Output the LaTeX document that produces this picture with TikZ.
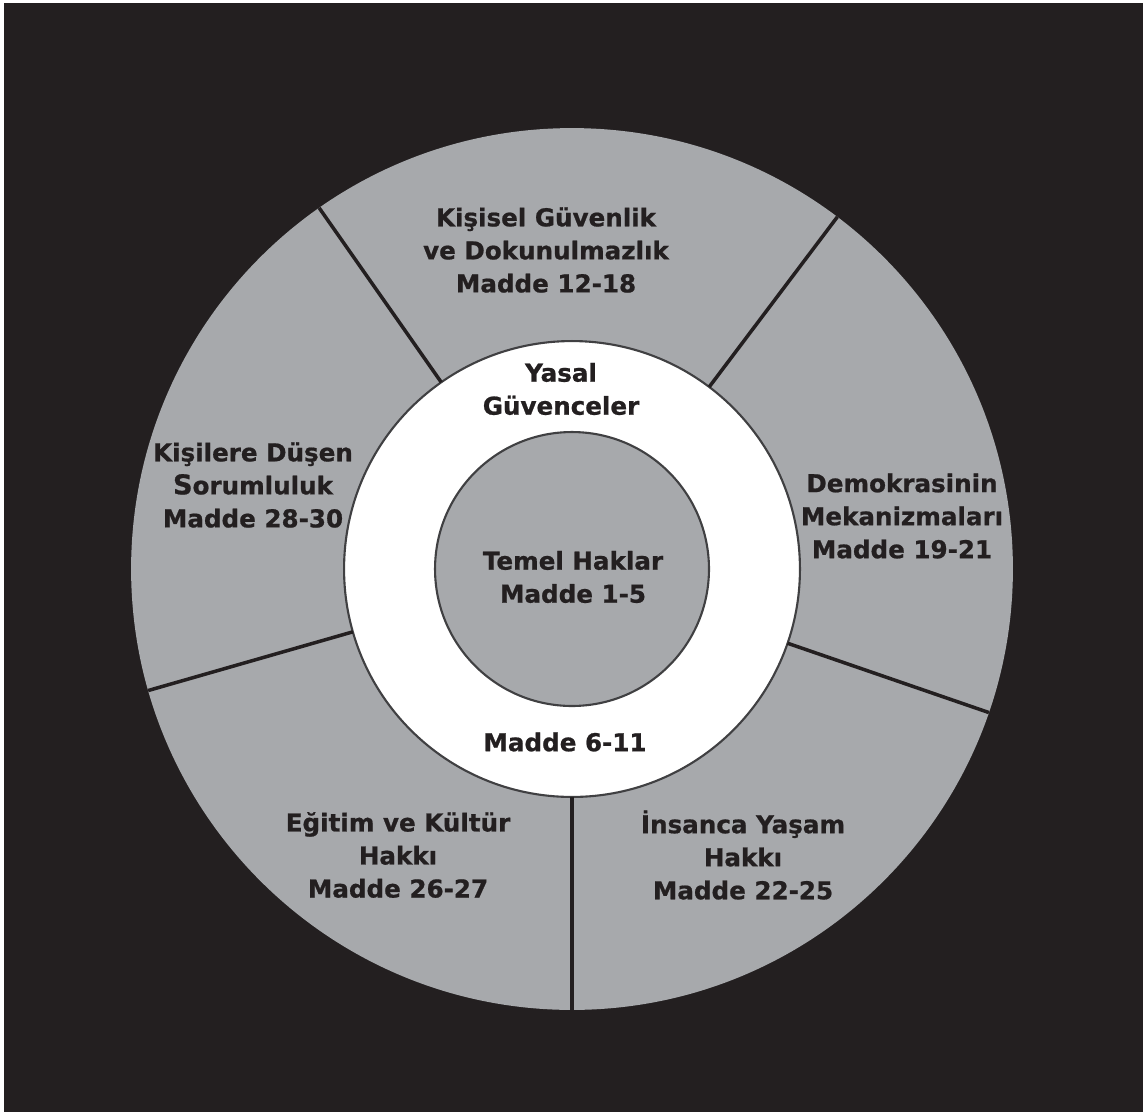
\documentclass[tikz,border=0pt]{standalone}
\usepackage{fontspec}
\setmainfont{DejaVu Sans}[BoldFeatures={FakeBold=0.8}]
\usepackage{tikz}
\definecolor{bg}{HTML}{231F20}
\definecolor{sector}{HTML}{A7A9AC}
\definecolor{rim}{HTML}{404042}

\begin{document}
\begin{tikzpicture}[x=0.02cm, y=-0.02cm,
    disc/.style={circle, inner sep=0pt, outer sep=0pt},
    divider/.style={draw=bg, line width=2pt},
    label/.style={align=center, text=bg, font=\fontsize{14pt}{18.8pt}\selectfont\bfseries}]
  \useasboundingbox (0,0) rectangle (1148,1116);
  \fill[white] (0,0) rectangle (1148,1116);
  \fill[bg] (4,3) rectangle (1143,1112);
  % rings
  \node[disc, fill=sector, minimum size=17.64cm] (outer) at (572,569) {};
  \node[disc, fill=white, draw=rim, line width=1.2pt, minimum size=9.12cm] (ring) at (572,569) {};
  \node[disc, fill=sector, draw=rim, line width=1.2pt, minimum size=5.48cm] (core) at (572,569) {};
  % dividers
  \foreach \a in {125,53,-19,-90,196}
    \draw[divider] (ring.\a) -- (outer.\a);
  % sector texts
  \node[label] (guvenlik) at (546,250) {Kişisel Güvenlik\\ve Dokunulmazlık\\Madde 12-18};
  \node[label] (demokrasi) at (902,516) {Demokrasinin\\Mekanizmaları\\Madde 19-21};
  \node[label] (yasam) at (743,855) {İnsanca Yaşam\\Hakkı\\Madde 22-25};
  \node[label] (egitim) at (398,855) {Eğitim ve Kültür\\Hakkı\\Madde 26-27};
  \node[label] (sorumluluk) at (253,485) {Kişilere Düşen\\{\fontsize{15.5pt}{15.5pt}\selectfont S}orumluluk\\Madde 28-30};
  % ring texts
  \node[label] (yasal) at (561,389) {Yasal\\Güvenceler};
  \node[label] (madde611) at (565,742) {Madde 6-11};
  \node[label] (temel) at (573,577) {Temel Haklar\\Madde 1-5};
\end{tikzpicture}
\end{document}
